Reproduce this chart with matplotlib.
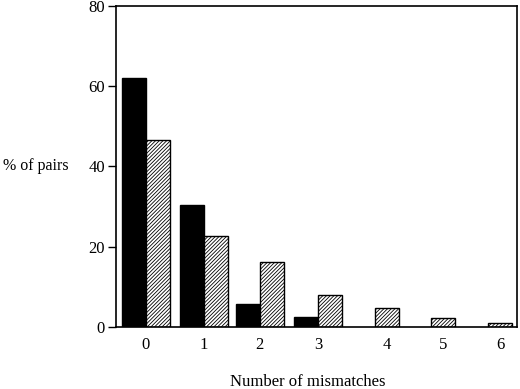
import matplotlib
matplotlib.use('agg')
import matplotlib.pyplot as plt
import numpy as np

# number of mismatches and % of pairs for the two groups
mismatches = [0, 1, 2, 3, 4, 5, 6]
solid_pct = [62.0, 30.5, 5.7, 2.4, 0, 0, 0]
hatched_pct = [46.6, 22.8, 16.2, 7.9, 4.7, 2.3, 1.1]

# layout: where each group sits on the x axis
xpos = [0, 1.01, 1.98, 2.99, 4.19, 5.16, 6.16]
width = 0.42

plt.rcParams['font.family'] = ['Liberation Serif', 'DejaVu Serif']
plt.rcParams['hatch.linewidth'] = 0.6

fig = plt.figure(figsize=(5.2, 3.89), dpi=100)
ax = fig.add_axes([0.223, 0.1594, 0.771, 0.8252])

hatch = '/' * 9
for x, s, h in zip(xpos, solid_pct, hatched_pct):
    if s > 0:
        ax.bar(x - width / 2, s, width, color='black', edgecolor='black', linewidth=1)
        ax.bar(x + width / 2, h, width, color='white', edgecolor='black',
               hatch=hatch, linewidth=1)
    else:
        ax.bar(x, h, width, color='white', edgecolor='black',
               hatch=hatch, linewidth=1)

ax.set_xlim(-0.52, 6.45)
ax.set_ylim(0, 80)
ax.set_yticks([0, 20, 40, 60, 80])
ax.set_xticks(xpos)
ax.set_xticklabels([str(m) for m in mismatches])
ax.tick_params(axis='x', length=0, pad=7, labelsize=12)
ax.tick_params(axis='y', length=6, width=1, direction='out', pad=2, labelsize=12)
for sp in ax.spines.values():
    sp.set_linewidth(1.2)

ax.set_ylabel('% of pairs', rotation=0, fontsize=11.5, ha='right', va='center')
ax.yaxis.set_label_coords(-0.118, 0.5)
fig.text(0.592, 1 - 382 / 389, 'Number of mismatches', ha='center', va='center', fontsize=12)

plt.savefig('out.png', dpi=100)
